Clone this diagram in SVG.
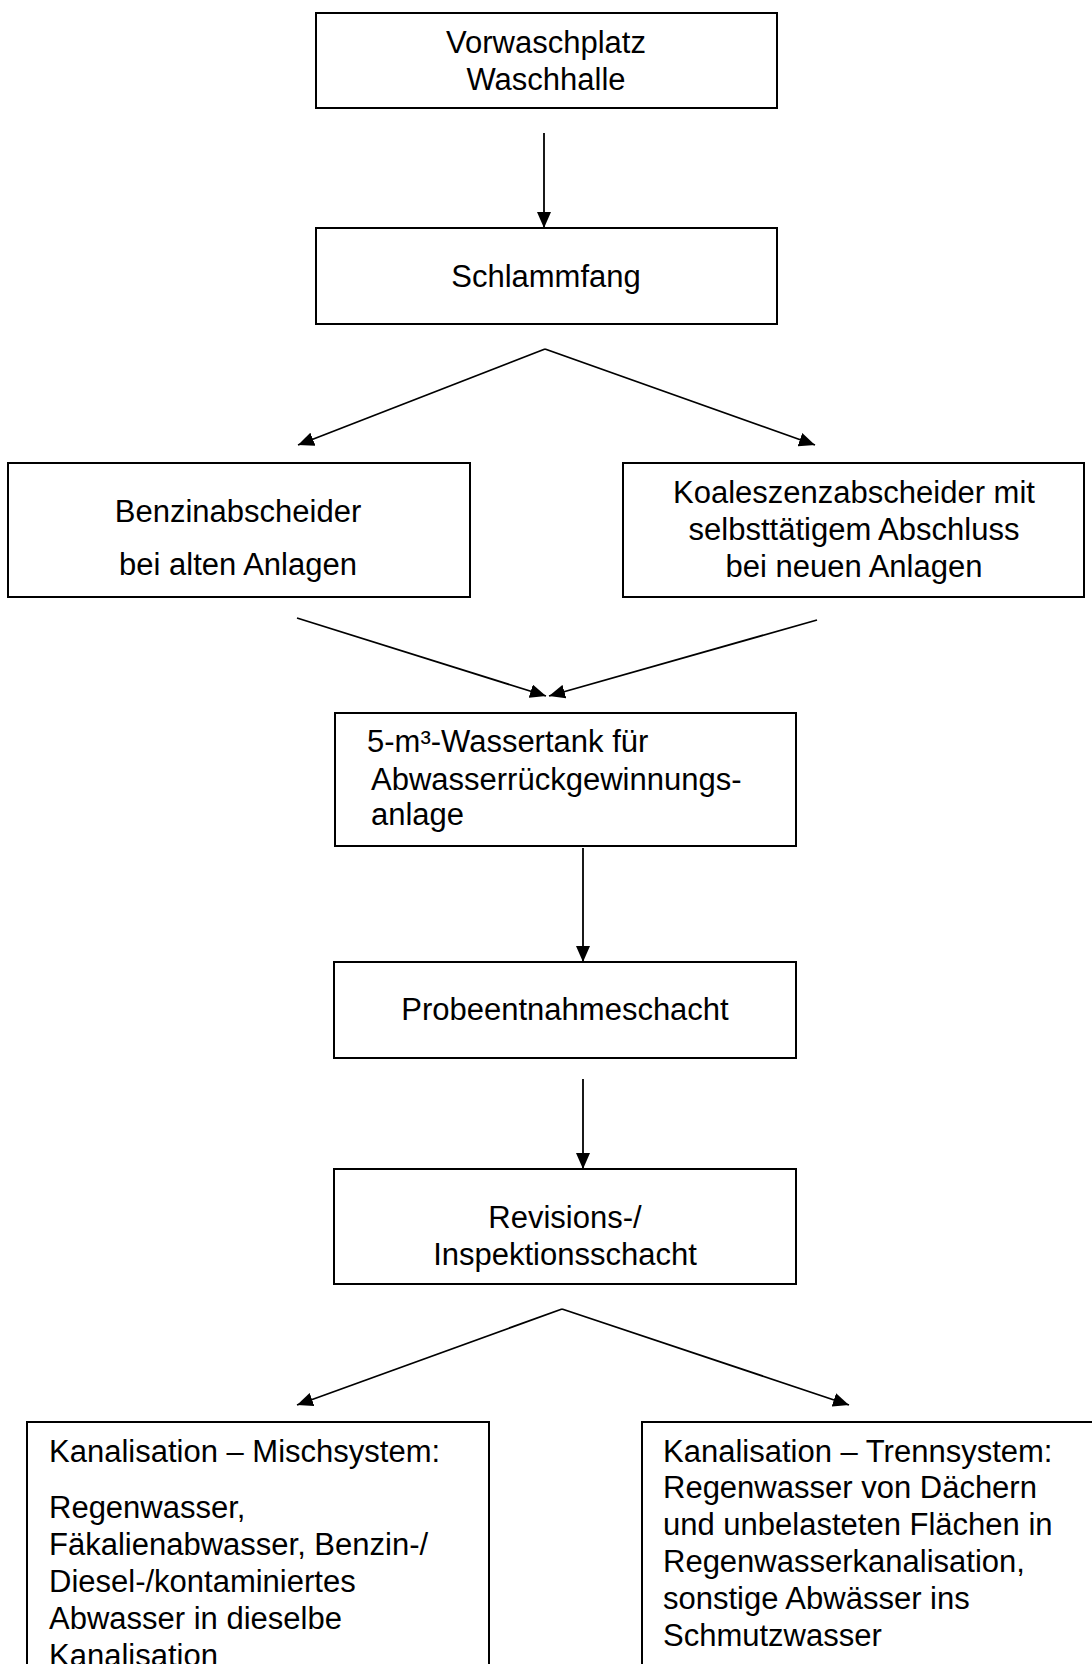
<svg xmlns="http://www.w3.org/2000/svg" width="1092" height="1664" viewBox="0 0 1092 1664">
<defs>
<style>
.box{fill:#fff;stroke:#000;stroke-width:2}
.t{font-family:"Liberation Sans",Arial,sans-serif;font-size:31px;fill:#000}
.c{text-anchor:middle}
.e{stroke:#000;stroke-width:1.8;fill:none}
</style>
<marker id="ah" markerUnits="userSpaceOnUse" markerWidth="16" markerHeight="14" refX="16" refY="7" orient="auto" viewBox="0 0 16 14">
<path d="M0,0 L16,7 L0,14 z" fill="#000"/>
</marker>
</defs>
<rect width="1092" height="1664" fill="#fff"/>
<g id="connectors">
<line class="e" x1="544" y1="133" x2="544" y2="228" marker-end="url(#ah)"/>
<line class="e" x1="545" y1="349" x2="298" y2="445" marker-end="url(#ah)"/>
<line class="e" x1="545" y1="349" x2="815" y2="445" marker-end="url(#ah)"/>
<line class="e" x1="297" y1="618" x2="546" y2="696" marker-end="url(#ah)"/>
<line class="e" x1="817" y1="620" x2="549" y2="696" marker-end="url(#ah)"/>
<line class="e" x1="583" y1="848" x2="583" y2="962" marker-end="url(#ah)"/>
<line class="e" x1="583" y1="1079" x2="583" y2="1169" marker-end="url(#ah)"/>
<line class="e" x1="562" y1="1309" x2="297" y2="1405" marker-end="url(#ah)"/>
<line class="e" x1="562" y1="1309" x2="849" y2="1405" marker-end="url(#ah)"/>
</g>
<g id="n1">
<rect class="box" x="316" y="13" width="461" height="95"/>
<text class="t c" x="546" y="53">Vorwaschplatz</text>
<text class="t c" x="546" y="90">Waschhalle</text>
</g>
<g id="n2">
<rect class="box" x="316" y="228" width="461" height="96"/>
<text class="t c" x="546" y="287">Schlammfang</text>
</g>
<g id="n3">
<rect class="box" x="8" y="463" width="462" height="134"/>
<text class="t c" x="238" y="522">Benzinabscheider</text>
<text class="t c" x="238" y="575">bei alten Anlagen</text>
</g>
<g id="n4">
<rect class="box" x="623" y="463" width="461" height="134"/>
<text class="t c" x="854" y="503">Koaleszenzabscheider mit</text>
<text class="t c" x="854" y="540">selbsttätigem Abschluss</text>
<text class="t c" x="854" y="577">bei neuen Anlagen</text>
</g>
<g id="n5">
<rect class="box" x="335" y="713" width="461" height="133"/>
<text class="t" x="367" y="752">5-m³-Wassertank für</text>
<text class="t" x="371" y="790">Abwasserrückgewinnungs-</text>
<text class="t" x="371" y="825">anlage</text>
</g>
<g id="n6">
<rect class="box" x="334" y="962" width="462" height="96"/>
<text class="t c" x="565" y="1020">Probeentnahmeschacht</text>
</g>
<g id="n7">
<rect class="box" x="334" y="1169" width="462" height="115"/>
<text class="t c" x="565" y="1228">Revisions-/</text>
<text class="t c" x="565" y="1265">Inspektionsschacht</text>
</g>
<g id="n8">
<rect class="box" x="27" y="1422" width="462" height="260"/>
<text class="t" x="49" y="1462">Kanalisation – Mischsystem:</text>
<text class="t" x="49" y="1518">Regenwasser,</text>
<text class="t" x="49" y="1555">Fäkalienabwasser, Benzin-/</text>
<text class="t" x="49" y="1592">Diesel-/kontaminiertes</text>
<text class="t" x="49" y="1629">Abwasser in dieselbe</text>
<text class="t" x="49" y="1666">Kanalisation</text>
</g>
<g id="n9">
<rect class="box" x="642" y="1422" width="470" height="260"/>
<text class="t" x="663" y="1462">Kanalisation – Trennsystem:</text>
<text class="t" x="663" y="1498">Regenwasser von Dächern</text>
<text class="t" x="663" y="1535">und unbelasteten Flächen in</text>
<text class="t" x="663" y="1572">Regenwasserkanalisation,</text>
<text class="t" x="663" y="1609">sonstige Abwässer ins</text>
<text class="t" x="663" y="1646">Schmutzwasser</text>
</g>
</svg>
